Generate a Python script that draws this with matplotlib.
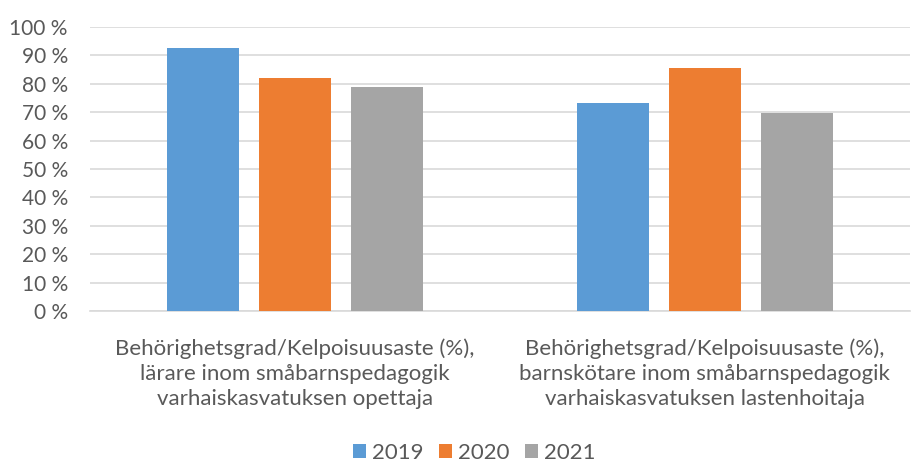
import matplotlib.pyplot as plt
import numpy as np
from matplotlib.ticker import FuncFormatter

categories = [
    "Behörighetsgrad/Kelpoisuusaste (%),\nlärare inom småbarnspedagogik\nvarhaiskasvatuksen opettaja",
    "Behörighetsgrad/Kelpoisuusaste (%),\nbarnskötare inom småbarnspedagogik\nvarhaiskasvatuksen lastenhoitaja",
]
years = ["2019", "2020", "2021"]
share_2019 = [92.5, 73.3]
share_2020 = [81.9, 85.4]
share_2021 = [79.0, 69.8]

colors = ["#5b9bd5", "#ed7d31", "#a5a5a5"]
text_color = "#595959"

plt.rcParams["font.family"] = ["Lato", "DejaVu Sans"]

fig = plt.figure(figsize=(9.12, 4.62), dpi=100)
ax = fig.add_axes([0.0987, 0.327, 0.899, 0.6146])

x = np.arange(len(categories))
width = 0.176
step = 0.224
for i, (year, vals) in enumerate(zip(years, [share_2019, share_2020, share_2021])):
    ax.bar(x + (i - 1) * step, vals, width, color=colors[i], label=year, zorder=3)

ax.set_xlim(-0.5, len(categories) - 0.5)
ax.set_ylim(0, 100)
ax.set_yticks(np.arange(0, 101, 10))
ax.yaxis.set_major_formatter(FuncFormatter(lambda v, _: f"{v:.0f} %"))
ax.grid(axis="y", color="#d9d9d9", linewidth=1.2, zorder=0)
for side in ["top", "right", "left"]:
    ax.spines[side].set_visible(False)
ax.spines["bottom"].set_color("#d9d9d9")
ax.spines["bottom"].set_linewidth(1.2)
ax.tick_params(axis="y", length=0, pad=16, labelsize=15, labelcolor=text_color)
ax.tick_params(axis="x", length=0, pad=20, labelsize=16, labelcolor=text_color)
ax.set_xticks(x)
ax.set_xticklabels(categories, linespacing=1.3)

fig.legend(loc="center", bbox_to_anchor=(0.52, 0.02), ncol=3, frameon=False,
           fontsize=16, labelcolor=text_color, handlelength=0.6, handleheight=0.6,
           handletextpad=0.25, columnspacing=0.7)

fig.savefig("out.png", dpi=100)
